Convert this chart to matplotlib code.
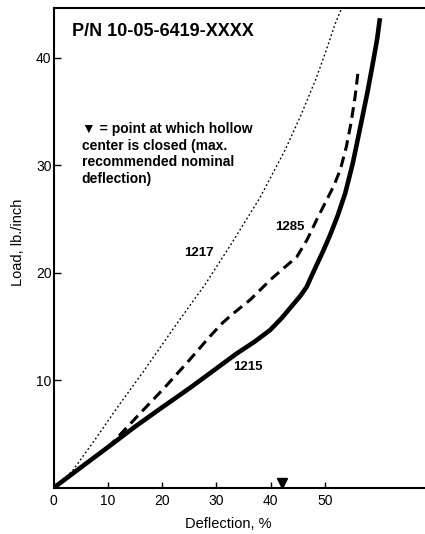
import matplotlib
matplotlib.use("Agg")
import matplotlib.pyplot as plt

plt.rcParams['font.family'] = ['Liberation Sans', 'DejaVu Sans']

# Curve 1215 (solid, thick)
x_1215 = [0, 5, 10.3, 15, 20, 25.1, 29.4, 33.7, 37, 39.9, 42, 44, 45.5, 46.6, 47.5, 48.5, 49.7,
          50.9, 52.3, 53.7, 55.1, 56.5, 57.8, 58.9, 59.6, 60.1]
y_1215 = [0, 1.9, 3.9, 5.7, 7.5, 9.3, 10.9, 12.5, 13.6, 14.7, 15.8, 17.0, 17.9, 18.7, 19.7, 20.8, 22.1,
          23.5, 25.3, 27.4, 30.2, 33.6, 36.8, 39.8, 41.8, 43.7]

# Curve 1285 (dashed)
x_1285 = [0, 5, 10.3, 15.3, 20.2, 24.5, 28.8, 31, 33, 36.2, 40, 42.5, 44.8, 46.7, 48.5, 50.3,
          51.6, 52.8, 53.9, 54.8, 55.5, 56.1]
y_1285 = [0, 1.9, 3.9, 6.6, 9.2, 11.6, 14.1, 15.3, 16.2, 17.5, 19.4, 20.5, 21.5, 23.1, 25.0, 26.8,
          28.1, 29.6, 31.7, 34.0, 36.3, 38.8]

# Curve 1217 (dotted)
x_1217 = [0, 3.5, 7.5, 11.9, 16.5, 22.3, 28.0, 33.1, 38.0, 42.6, 45.4, 48.2, 50.0, 51.8, 53.1]
y_1217 = [0, 1.6, 4.4, 7.6, 10.8, 15.0, 19.0, 23.0, 27.0, 31.4, 34.5, 37.9, 40.4, 43.1, 44.7]

closed_point_x = 42
x_ticks = [0, 10, 20, 30, 40, 50]
y_ticks = [10, 20, 30, 40]

fig = plt.figure(figsize=(4.25, 5.34), dpi=100)
ax = fig.add_axes([53.5 / 425, 46 / 534, 1 - 53.5 / 425, (534 - 8 - 46) / 534])

ax.plot(x_1217, y_1217, color='black', lw=1.0, linestyle=(0, (1.3, 1.8)))
ax.plot(x_1285, y_1285, color='black', lw=2.2, linestyle=(0, (3.5, 2.0)))
ax.plot(x_1215, y_1215, color='black', lw=3.3, solid_capstyle='butt', solid_joinstyle='round')

ax.plot([closed_point_x], [0.47], marker='v', color='black', markersize=7, linestyle='none', clip_on=False)

ax.set_xlim(0, 68.4)
ax.set_ylim(0, 44.65)
ax.set_xticks(x_ticks)
ax.set_yticks(y_ticks)
ax.tick_params(axis='x', direction='in', length=4, width=1, labelsize=10, pad=4)
ax.tick_params(axis='y', direction='in', length=5, width=1, labelsize=10, pad=1.5)

for s in ['left', 'bottom', 'top']:
    ax.spines[s].set_linewidth(1.5)
ax.spines['right'].set_visible(False)

ax.set_xlabel('Deflection, %', fontsize=10.5)
ax.set_ylabel('Load, lb./inch', fontsize=10.5)
ax.xaxis.set_label_coords(0.47, -0.075)
ax.yaxis.set_label_coords(-0.0956, 0.5125)
ax.xaxis.label.set_va('center')
ax.yaxis.label.set_va('center')

ax.text(3.4, 42.5, 'P/N 10-05-6419-XXXX', fontsize=13, fontweight='bold', va='center', ha='left')
ax.text(5.2, 34.05, '\u25bc = point at which hollow\ncenter is closed (max.\nrecommended nominal\ndeflection)',
        fontsize=10, fontweight='bold', va='top', ha='left', linespacing=1.25)

ax.text(26.8, 21.9, '1217', fontsize=9.5, fontweight='bold', ha='center', va='center')
ax.text(43.6, 24.3, '1285', fontsize=9.5, fontweight='bold', ha='center', va='center')
ax.text(35.8, 11.3, '1215', fontsize=9.5, fontweight='bold', ha='center', va='center')

fig.savefig('out.png', dpi=100)
